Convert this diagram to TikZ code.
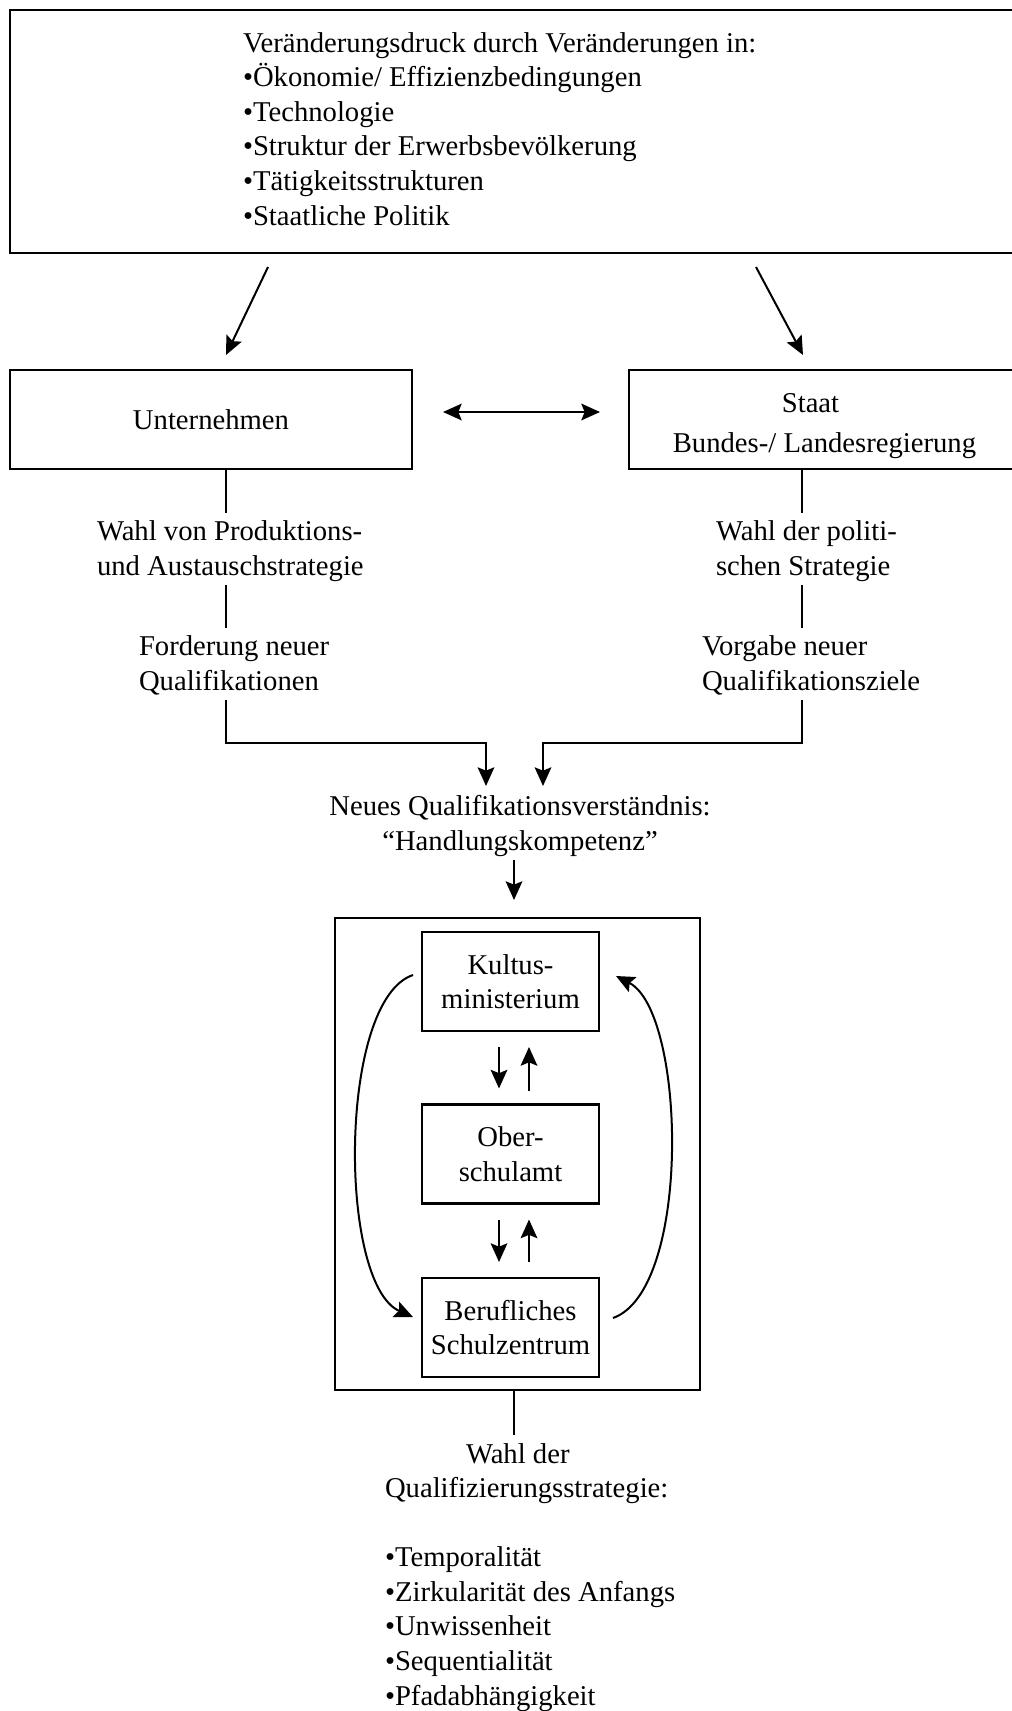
\documentclass[tikz,border=0pt]{standalone}
\usepackage{fontspec}
\setmainfont{Liberation Serif}
\usetikzlibrary{arrows.meta,calc}
\begin{document}
\begin{tikzpicture}[x=0.75pt,y=-0.75pt,
  every node/.style={font=\fontsize{21.5}{25.9}\selectfont, inner sep=0pt, outer sep=0pt},
  box/.style={draw, line width=1.6pt, rectangle},
  line/.style={line width=1.5pt},
  tip/.tip={Stealth[length=14pt,width=12.5pt,inset=2.5pt]},
  arr/.style={line width=1.5pt, -tip},
  darr/.style={line width=1.5pt, tip-tip},
]
\useasboundingbox (0,0) rectangle (1012,1711);
\clip (0,0) rectangle (1012,1711);

% top box (anchors of multi-line texts: baseline of the last line)
\node[box, minimum width=765pt, minimum height=182.25pt] (top) at (520,131.5) {};
\node[anchor=base west, align=left] (toptext) at (243,225) {Veränderungsdruck durch Veränderungen in:\\•Ökonomie/ Effizienzbedingungen\\•Technologie\\•Struktur der Erwerbsbevölkerung\\•Tätigkeitsstrukturen\\•Staatliche Politik};

% actors
\node[box, minimum width=301.5pt, minimum height=74.25pt] (unt) at (211,419.5) {Unternehmen};
\node[box, minimum width=300.75pt, minimum height=74.25pt] (staat) at (829.5,419.5) {};
\node[anchor=base, align=center] (staattext) at (824.5,452) {Staat\hspace*{21pt}\\[3.4pt]Bundes-/ Landesregierung};

% labels
\node[anchor=base west, align=left] (wahlp) at (97,575) {Wahl von Produktions-\\und Austauschstrategie};
\node[anchor=base west, align=left] (ford) at (139,690) {Forderung neuer\\Qualifikationen};
\node[anchor=base west, align=left] (wahlpol) at (716,575) {Wahl der politi-\\schen Strategie};
\node[anchor=base west, align=left] (vorg) at (702,690) {Vorgabe neuer\\Qualifikationsziele};
\node[anchor=base, align=center] (neues) at (520,850) {Neues Qualifikationsverständnis:\\“Handlungskompetenz”};

% inner system
\node[box, minimum width=273.75pt, minimum height=354pt] (outer) at (517.5,1154) {};
\node[box, minimum width=132.75pt, minimum height=74.25pt, align=center] (kult) at (510.5,981.5) {Kultus-\\ministerium};
\node[box, minimum width=132.75pt, minimum height=74.25pt, align=center] (ober) at (510.5,1154) {Ober-\\schulamt};
\node[box, minimum width=132.75pt, minimum height=74.25pt, align=center] (beruf) at (510.5,1327.5) {Berufliches\\Schulzentrum};

% bottom text
\node[anchor=base west, align=left] (wahlq) at (385,1705) {\hspace*{60.75pt}Wahl der\\Qualifizierungsstrategie:\\[25.9pt]•Temporalität\\•Zirkularität des Anfangs\\•Unwissenheit\\•Sequentialität\\•Pfadabhängigkeit};

% coordinates
\coordinate (a1s) at (268,267); \coordinate (a1e) at (226,355);
\coordinate (a2s) at (756,267); \coordinate (a2e) at (803,355);
\coordinate (d1) at (443,412); \coordinate (d2) at (600,412);
\coordinate (l1) at (226,513); \coordinate (l2) at (226,585); \coordinate (l3) at (226,628);
\coordinate (l4) at (226,700); \coordinate (lk) at (486,743); \coordinate (lt) at (486,786);
\coordinate (r1) at (802,513); \coordinate (r2) at (802,585); \coordinate (r3) at (802,628);
\coordinate (r4) at (802,700); \coordinate (rk) at (543,743); \coordinate (rt) at (543,786);
\coordinate (n1) at (514,860); \coordinate (n2) at (514,900);
\coordinate (c1) at (413,975); \coordinate (c2) at (413,1317);
\coordinate (c3) at (613,1318); \coordinate (c4) at (616,976);
\coordinate (b1) at (514,1435);

% connectors
\draw[arr] (a1s) -- (a1e);
\draw[arr] (a2s) -- (a2e);
\draw[darr] (d1) -- (d2);

\draw[line] (unt.south -| l1) -- (l1);
\draw[line] (l2) -- (l3);
\draw[arr] (l4) |- (lk) -- (lt);

\draw[line] (staat.south -| r1) -- (r1);
\draw[line] (r2) -- (r3);
\draw[arr] (r4) |- (rk) -- (rt);

\draw[arr] (n1) -- (n2);

\draw[arr, shorten <=12pt, shorten >=12pt] ($(kult.south)+(-11.5,0)$) -- ($(ober.north)+(-11.5,0)$);
\draw[arr, shorten <=10.5pt, shorten >=12pt] ($(ober.north)+(18.5,0)$) -- ($(kult.south)+(18.5,0)$);
\draw[arr, shorten <=12pt, shorten >=12pt] ($(ober.south)+(-11.5,0)$) -- ($(beruf.north)+(-11.5,0)$);
\draw[arr, shorten <=12pt, shorten >=12pt] ($(beruf.north)+(18.5,0)$) -- ($(ober.south)+(18.5,0)$);

\draw[arr] (c1) .. controls (338,1000) and (338,1284) .. (c2);
\draw[arr] (c3) .. controls (692,1290) and (686,1012) .. (c4);

\draw[line] (outer.south -| b1) -- (b1);
\end{tikzpicture}
\end{document}
